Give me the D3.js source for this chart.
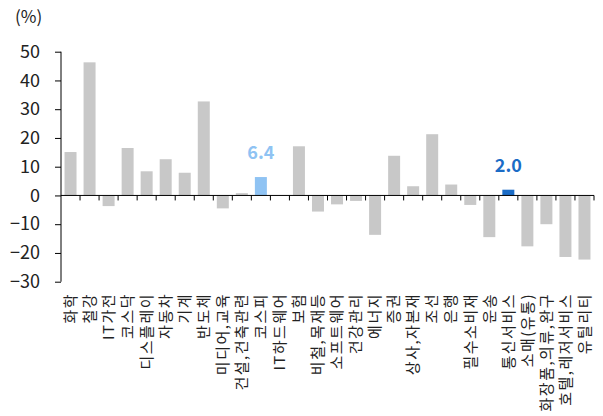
<!DOCTYPE html>
<html>
<head>
<meta charset="utf-8">
<script src="https://cdn.jsdelivr.net/npm/d3@7"></script>
<style>
  html, body { margin: 0; padding: 0; background: #fff; }
  svg { display: block; }
  text { font-family: "Noto Sans CJK KR", "Noto Sans", sans-serif; fill: #222; }
</style>
</head>
<body>
<div id="chart"></div>
<script>
// Sector returns (%)
const categories = ["화학", "철강", "IT가전", "코스닥", "디스플레이", "자동차", "기계", "반도체",
  "미디어,교육", "건설,건축관련", "코스피", "IT하드웨어", "보험", "비철,목재등", "소프트웨어",
  "건강관리", "에너지", "증권", "상사,자본재", "조선", "은행", "필수소비재", "운송", "통신서비스",
  "소매(유통)", "화장품,의류,완구", "호텔,레저서비스", "유틸리티"];
const values = [15.1, 46.3, -3.7, 16.5, 8.4, 12.6, 7.9, 32.7,
  -4.5, 0.8, 6.4, 0.0, 17.1, -5.6, -3.1,
  -1.9, -13.7, 13.8, 3.2, 21.3, 3.8, -3.3, -14.5, 2.0,
  -17.7, -10.0, -21.4, -22.3];
const highlighted = { "코스피": "#8fc3f3", "통신서비스": "#1b6cc6" };
const yTicks = [50, 40, 30, 20, 10, 0, -10, -20, -30];
const unitLabel = "(%)";

const W = 603, H = 416;
const svg = d3.select("#chart").append("svg").attr("width", W).attr("height", H);

const x = d3.scaleBand().domain(categories).range([61, 594]).padding(0);
const y = d3.scaleLinear().domain([-30, 50]).range([281.7, 51.7]);
const barW = x.bandwidth() * 0.63;

// bars
svg.append("g").selectAll("rect")
  .data(categories.map((c, i) => ({ c, v: values[i] })))
  .join("rect")
  .attr("x", d => x(d.c) + (x.bandwidth() - barW) / 2)
  .attr("width", barW)
  .attr("y", d => y(Math.max(0, d.v)))
  .attr("height", d => Math.abs(y(d.v) - y(0)))
  .attr("fill", d => highlighted[d.c] || "#c8c8c8");

// value labels on highlighted bars
svg.append("g").selectAll("text")
  .data(categories.map((c, i) => ({ c, v: values[i] })).filter(d => highlighted[d.c]))
  .join("text")
  .attr("x", d => x(d.c) + x.bandwidth() / 2)
  .attr("y", d => y(d.v) - 18)
  .attr("text-anchor", "middle")
  .style("font-size", "18px")
  .style("font-weight", "bold")
  .style("fill", d => highlighted[d.c])
  .text(d => d.v.toFixed(1));

// y axis
const yAxis = svg.append("g").attr("transform", "translate(61,0)")
  .call(d3.axisLeft(y).tickValues(yTicks).tickSize(6).tickPadding(15).tickFormat(d3.format("d")));
yAxis.select(".domain").attr("d", `M0,${y(50)}V${y(-30)}`).attr("stroke", "#000");
yAxis.selectAll(".tick line").attr("stroke", "#000");
yAxis.selectAll(".tick text").style("font-size", "18px").style("fill", "#222")
  .style("font-family", "'Noto Sans CJK KR', sans-serif");

// zero line with category boundary ticks
const zero = svg.append("g").attr("transform", `translate(0,${y(0)})`);
zero.append("line").attr("x1", 61).attr("x2", 594).attr("stroke", "#000");
const bounds = categories.map(c => x(c)).concat([x.range()[1]]);
zero.selectAll("line.b").data(bounds.slice(1)).join("line").attr("class", "b")
  .attr("x1", d => d).attr("x2", d => d).attr("y1", 0).attr("y2", 5).attr("stroke", "#000");

// category labels (vertical)
svg.append("g").selectAll("text")
  .data(categories)
  .join("text")
  .attr("transform", c => `translate(${x(c) + x.bandwidth() / 2},293) rotate(-90)`)
  .attr("text-anchor", "end")
  .attr("dy", "0.35em")
  .style("font-size", "15px")
  .style("letter-spacing", "1.5px")
  .text(c => c);

// unit
svg.append("text").attr("x", 15).attr("y", 23).style("font-size", "17px").text(unitLabel);
</script>
</body>
</html>
